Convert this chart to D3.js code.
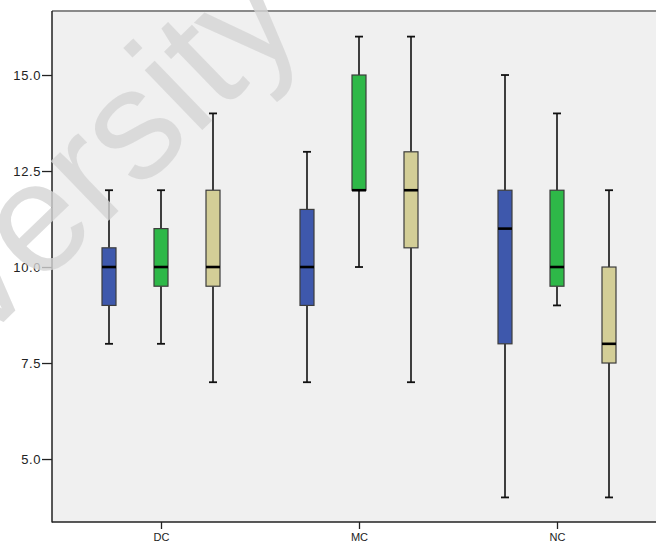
<!DOCTYPE html>
<html>
<head>
<meta charset="utf-8">
<script src="https://cdn.jsdelivr.net/npm/d3@7"></script>
<style>
  html, body { margin: 0; padding: 0; background: #fff; }
  svg { display: block; }
</style>
</head>
<body>
<script>
// ---- data ----
const categories = ["DC", "MC", "NC"];
const seriesNames = ["Group 1", "Group 2", "Group 3"];
const seriesColors = ["#3E58AC", "#2EB848", "#D3CE97"];
// each entry: [min, q1, median, q3, max] per category
const series1 = [[8, 9, 10, 10.5, 12], [7, 9, 10, 11.5, 13], [4, 8, 11, 12, 15]];
const series2 = [[8, 9.5, 10, 11, 12], [10, 12, 12, 15, 16], [9, 9.5, 10, 12, 14]];
const series3 = [[7, 9.5, 10, 12, 14], [7, 10.5, 12, 13, 16], [4, 7.5, 8, 10, 12]];
const yTicks = [5.0, 7.5, 10.0, 12.5, 15.0];
const watermarkText = "University";

const W = 656, H = 544;
const plot = { left: 52, top: 11, right: 656, bottom: 522 };

const svg = d3.select("body").append("svg").attr("width", W).attr("height", H);
svg.append("rect").attr("width", W).attr("height", H).attr("fill", "#fff");

svg.append("rect")
  .attr("x", plot.left).attr("y", plot.top)
  .attr("width", plot.right - plot.left).attr("height", plot.bottom - plot.top)
  .attr("fill", "#f0f0f0");

const y = d3.scaleLinear().domain([3.36, 16.667]).range([plot.bottom, plot.top]);
const x = d3.scalePoint().domain(categories).range([plot.left + 109, plot.left + 505]);
const xs = d3.scalePoint().domain(seriesNames).range([-52, 52]);

// top border
svg.append("line")
  .attr("x1", plot.left).attr("x2", plot.right)
  .attr("y1", plot.top).attr("y2", plot.top)
  .attr("stroke", "#8a8a8a").attr("stroke-width", 2);

// axes
const yAxis = svg.append("g")
  .attr("transform", `translate(${plot.left},0)`)
  .call(d3.axisLeft(y).tickValues(yTicks).tickFormat(d3.format(".1f")).tickSize(10).tickPadding(1));
yAxis.select(".domain").remove();
yAxis.selectAll(".tick line").attr("stroke", "#222").attr("stroke-width", 1.3);
yAxis.selectAll(".tick text")
  .attr("font-family", "Liberation Sans, Arial, sans-serif")
  .attr("font-size", 13).attr("fill", "#222").attr("letter-spacing", 0.6);

const xAxis = svg.append("g")
  .attr("transform", `translate(0,${plot.bottom})`)
  .call(d3.axisBottom(x).tickSize(7).tickPadding(4));
xAxis.select(".domain").remove();
xAxis.selectAll(".tick line").attr("stroke", "#222").attr("stroke-width", 1.3);
xAxis.selectAll(".tick text")
  .attr("font-family", "Liberation Sans, Arial, sans-serif")
  .attr("font-size", 11).attr("fill", "#222");

svg.append("line")
  .attr("x1", plot.left).attr("x2", plot.left)
  .attr("y1", plot.top).attr("y2", plot.bottom + 0.5)
  .attr("stroke", "#222").attr("stroke-width", 1.5);
svg.append("line")
  .attr("x1", plot.left).attr("x2", plot.right)
  .attr("y1", plot.bottom).attr("y2", plot.bottom)
  .attr("stroke", "#222").attr("stroke-width", 1.5);

// boxes
const allSeries = [series1, series2, series3];
const boxW = 14, capW = 8;
const g = svg.append("g");
allSeries.forEach((ser, si) => {
  ser.forEach((st, ci) => {
    const cx = x(categories[ci]) + xs(seriesNames[si]);
    const [mn, q1, md, q3, mx] = st;
    // whiskers
    g.append("line").attr("x1", cx).attr("x2", cx).attr("y1", y(mx)).attr("y2", y(q3))
      .attr("stroke", "#111").attr("stroke-width", 1.6);
    g.append("line").attr("x1", cx).attr("x2", cx).attr("y1", y(q1)).attr("y2", y(mn))
      .attr("stroke", "#111").attr("stroke-width", 1.6);
    [mx, mn].forEach(v => {
      g.append("line").attr("x1", cx - capW / 2).attr("x2", cx + capW / 2)
        .attr("y1", y(v)).attr("y2", y(v))
        .attr("stroke", "#111").attr("stroke-width", 1.8);
    });
    // box
    g.append("rect")
      .attr("x", cx - boxW / 2).attr("y", y(q3))
      .attr("width", boxW).attr("height", Math.max(0.5, y(q1) - y(q3)))
      .attr("fill", seriesColors[si])
      .attr("stroke", "#3c3c3c").attr("stroke-width", 1.2);
    // median
    g.append("line").attr("x1", cx - boxW / 2).attr("x2", cx + boxW / 2)
      .attr("y1", y(md)).attr("y2", y(md))
      .attr("stroke", "#000").attr("stroke-width", 2.6);
  });
});

// watermark
svg.append("text")
  .attr("transform", "translate(-188,507) rotate(-44)")
  .attr("font-family", "Liberation Sans, Arial, sans-serif")
  .attr("font-size", 157)
  .attr("fill", "#d4d4d4").attr("fill-opacity", 0.8)
  .text(watermarkText);
</script>
</body>
</html>
